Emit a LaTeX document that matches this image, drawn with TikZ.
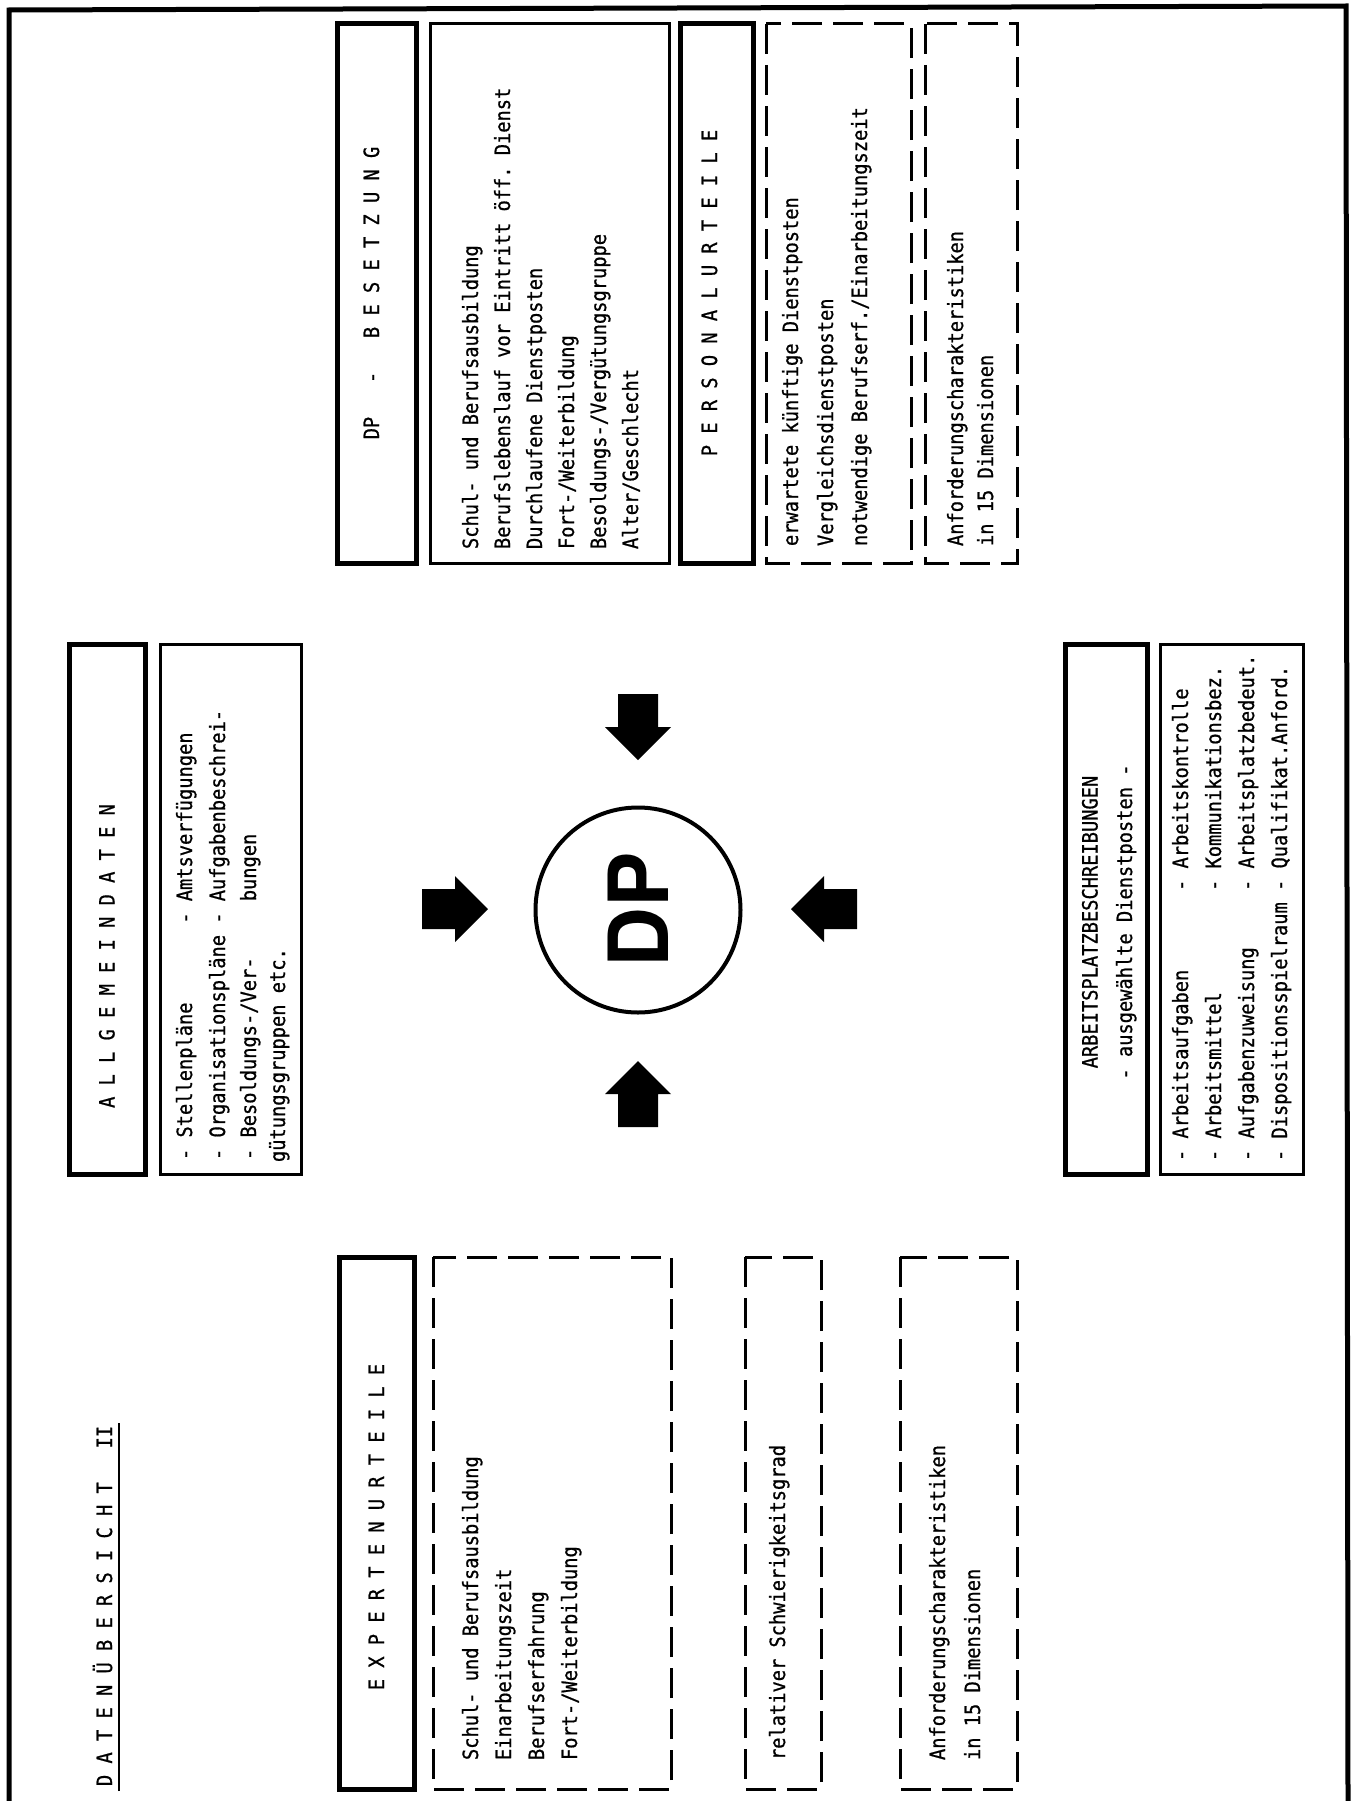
\documentclass[tikz,border=0pt]{standalone}
\usepackage{fontspec}
\newfontfamily\monof{DejaVu Sans Mono}[FakeStretch=0.89, FakeBold=0.8]
\newfontfamily\dpfont{TeX Gyre Heros}
% filled block arrow with its tip at (#1,#2), turned by #3 degrees
\newcommand\blockarrow[3]{%
  \fill[shift={(#1,#2)}, rotate=#3]
    (-66,-20) -- (-33,-20) -- (-33,-33) -- (0,0) -- (-33,33) -- (-33,20) -- (-66,20) -- cycle;}
\begin{document}
\frenchspacing
\begin{tikzpicture}[x=1pt,y=-1pt,
  every node/.style={inner sep=0pt, outer sep=0pt},
  txt/.style={font=\monof\fontsize{21}{33}\selectfont, rotate=90, anchor=base west},
  ctxt/.style={font=\monof\fontsize{21}{33}\selectfont, rotate=90, anchor=base},
  hdrbox/.style={draw, line width=5pt},
  listbox/.style={draw, line width=3pt},
  dashbox/.style={draw, line width=3pt, dash pattern=on 30pt off 11pt},
  frameline/.style={line width=5pt}]
\useasboundingbox (0,0) rectangle (1355,1801);
\fill[white] (0,0) rectangle (1355,1801);

% outer frame, open at the bottom
\draw[frameline] (9,1801) -- (9,10) -- (1346,6) -- (1348,1801);

% title
\node[txt] (title) at (112,1786) {D A T E N Ü B E R S I C H T~~~II};
\draw[line width=2.5pt] (119,1791) -- (119,1423);

% ---------- DP - Besetzung / Personalurteile ----------
\draw[hdrbox]  (337,24) rectangle (416,563);
\node[ctxt] (hBes) at (379,293) {DP~~~-~~~B E S E T Z U N G};
\draw[listbox] (430,24) rectangle (669,563);
\node[txt] (b1) at (478,549) {Schul- und Berufsausbildung};
\node[txt] (b2) at (510,549) {Berufslebenslauf vor Eintritt öff. Dienst};
\node[txt] (b3) at (542,549) {Durchlaufene Dienstposten};
\node[txt] (b4) at (574,549) {Fort-/Weiterbildung};
\node[txt] (b5) at (606,549) {Besoldungs-/Vergütungsgruppe};
\node[txt] (b6) at (638,549) {Alter/Geschlecht};
\draw[hdrbox]  (680,24) rectangle (753,563);
\node[ctxt] (hPers) at (717,293) {P E R S O N A L U R T E I L E};
\draw[dashbox] (766,24) rectangle (911,563);
\node[txt] (p1) at (798,546) {erwartete künftige Dienstposten};
\node[txt] (p2) at (833,546) {Vergleichsdienstposten};
\node[txt] (p3) at (867,546) {notwendige Berufserf./Einarbeitungszeit};
\draw[dashbox] (925,24) rectangle (1017,563);
\node[txt] (p4) at (963,546) {Anforderungscharakteristiken};
\node[txt] (p5) at (993,546) {in 15 Dimensionen};

% ---------- Allgemeindaten ----------
\draw[hdrbox]  (69,644) rectangle (145,1174);
\node[ctxt] (hAllg) at (114.5,956) {A L L G E M E I N D A T E N};
\draw[listbox] (160,644) rectangle (301,1174);
\node[txt] (a1) at (192,1160) {- Stellenpläne~~~~~~~- Amtsverfügungen};
\node[txt] (a2) at (225,1160) {- Organisationspläne~- Aufgabenbeschrei-};
\node[txt] (a3) at (256,1160) {- Besoldungs-/Ver-~~~~~bungen};
\node[txt] (a4) at (285,1162) {gütungsgruppen etc.};

% ---------- DP with the four inflows ----------
\node[circle, draw, line width=4pt, minimum size=205pt] (dp) at (638,910) {};
\node[rotate=90, font=\dpfont\bfseries\fontsize{83}{83}\selectfont] (dpl) at (dp.center) {DP};
\blockarrow{488}{909}{0}
\blockarrow{791}{909}{180}
\blockarrow{638}{760}{-90}
\blockarrow{638}{1061}{90}

% ---------- Arbeitsplatzbeschreibungen ----------
\draw[hdrbox]  (1065,644) rectangle (1147,1174);
\node[ctxt] (hArb1) at (1097.5,922) {ARBEITSPLATZBESCHREIBUNGEN};
\node[ctxt] (hArb2) at (1132,922) {- ausgewählte Dienstposten -};
\draw[listbox] (1160,644) rectangle (1303,1174);
\node[txt] (w1) at (1188,1161) {- Arbeitsaufgaben~~~~~~~- Arbeitskontrolle};
\node[txt] (w2) at (1221,1161) {- Arbeitsmittel~~~~~~~~~- Kommunikationsbez.};
\node[txt] (w3) at (1254,1161) {- Aufgabenzuweisung~~~~~- Arbeitsplatzbedeut.};
\node[txt] (w4) at (1287,1161) {- Dispositionsspielraum~- Qualifikat.Anford.};

% ---------- Experturteile ----------
\draw[hdrbox]  (339,1257) rectangle (414,1789);
\node[ctxt] (hExp) at (384,1527) {E X P E R T E N U R T E I L E};
\draw[dashbox] (433,1257) rectangle (671,1789);
\node[txt] (e1) at (478,1760) {Schul- und Berufsausbildung};
\node[txt] (e2) at (511,1760) {Einarbeitungszeit};
\node[txt] (e3) at (544,1760) {Berufserfahrung};
\node[txt] (e4) at (577,1760) {Fort-/Weiterbildung};
\draw[dashbox] (745,1257) rectangle (821,1789);
\node[txt] (e5) at (785,1760) {relativer Schwierigkeitsgrad};
\draw[dashbox] (900,1257) rectangle (1017,1789);
\node[txt] (e6) at (945,1760) {Anforderungscharakteristiken};
\node[txt] (e7) at (980,1760) {in 15 Dimensionen};
\end{tikzpicture}
\end{document}
